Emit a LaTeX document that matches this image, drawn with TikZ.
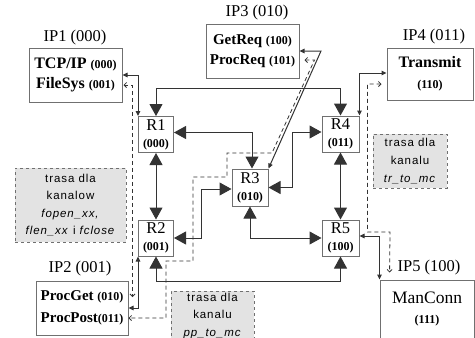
\documentclass[tikz,border=0pt]{standalone}
\usepackage{fontspec}
\setmainfont{Liberation Serif}
\newfontfamily\notefont[LetterSpace=8]{Liberation Sans}
\usetikzlibrary{arrows.meta,calc}
\definecolor{boxline}{HTML}{707070}
\definecolor{linkc}{HTML}{333333}
\definecolor{notefill}{HTML}{E3E3E3}
\newcommand\smnum[1]{{\bfseries\fontsize{12}{12}\selectfont #1}}
\tikzset{
  ipbox/.style={draw=boxline, line width=1pt, fill=white, inner sep=0pt, align=center},
  rbox/.style={ipbox, minimum width=35pt, minimum height=36pt, font=\fontsize{16.5}{17}\selectfont},
  iplabel/.style={inner sep=0pt, font=\fontsize{16.5}{18}\selectfont},
  notebox/.style={draw=boxline, dashed, fill=notefill, line width=0.8pt, inner sep=0pt, align=center, font=\notefont\fontsize{11.5}{17.6}\selectfont},
  biglink/.style={draw=linkc, line width=1pt, {Triangle[length=12pt,width=13pt]}-{Triangle[length=12pt,width=13pt]}},
  smalllink/.style={draw=linkc, line width=1pt, {Triangle[length=5pt,width=4.5pt]}-{Triangle[length=5pt,width=4.5pt]}},
  route/.style={draw=linkc, line width=0.8pt, dash pattern=on 4pt off 3pt, {Straight Barb[length=2.5pt,width=5pt]}-{Straight Barb[length=2.5pt,width=5pt]}},
}
\begin{document}
\begin{tikzpicture}[x=1pt,y=-1pt]
\useasboundingbox (0,0) rectangle (475,338);

% notes
\node[notebox, minimum width=111pt, minimum height=74pt] (N1) at (70.5,205)
  {trasa dla\\kanalow\\\textit{fopen\_xx,}\\\textit{flen\_xx} i \textit{fclose}};
\node[notebox, minimum width=74pt, minimum height=54pt] (N2) at (410,161)
  {trasa dla\\kanalu\\\textit{tr\_to\_mc}};
\node[notebox, minimum width=83pt, minimum height=50pt] (N3) at (212.5,316)
  {trasa dla\\kanalu\\\textit{pp\_to\_mc}};

% IP boxes
\node[ipbox, minimum width=93pt, minimum height=54pt, font=\bfseries\fontsize{16}{20}\selectfont] (IP1) at (75.5,75)
  {TCP/IP \smnum{(000)}\\FileSys \smnum{(001)}};
\node[ipbox, minimum width=92pt, minimum height=54pt, font=\bfseries\fontsize{15}{22}\selectfont] (IP2) at (82,308)
  {ProcGet \smnum{(010)}\\ProcPost\smnum{(011)}};
\node[ipbox, minimum width=93pt, minimum height=54pt, font=\bfseries\fontsize{15}{20}\selectfont] (IP3) at (252.5,51)
  {GetReq \smnum{(100)}\\ProcReq \smnum{(101)}};
\node[ipbox, minimum width=86pt, minimum height=52pt, font=\bfseries\fontsize{16}{21}\selectfont] (IP4) at (430,74)
  {Transmit\\\smnum{(110)}};
\node[ipbox, minimum width=94pt, minimum height=58pt, font=\fontsize{17.5}{20}\selectfont] (IP5) at (427,309)
  {ManConn\\\smnum{(111)}};

% labels
\node[iplabel] (L1) at (75,38) {IP1 (000)};
\node[iplabel] (L2) at (80,269) {IP2 (001)};
\node[iplabel] (L3) at (257,13) {IP3 (010)};
\node[iplabel] (L4) at (434,37) {IP4 (011)};
\node[iplabel] (L5) at (429,268) {IP5 (100)};

% routers
\node[rbox] (R1) at (156,134.5) {R1\\\smnum{(000)}};
\node[rbox] (R2) at (156,238) {R2\\\smnum{(001)}};
\node[rbox, minimum width=36pt, minimum height=37pt] (R3) at (250,187.5) {R3\\\smnum{(010)}};
\node[rbox, minimum width=37pt] (R4) at (340.5,134) {R4\\\smnum{(011)}};
\node[rbox, minimum width=37pt] (R5) at (340.5,238) {R5\\\smnum{(100)}};

% router links
\draw[biglink] (R1.north) -- ++(0,-28) -| (R4.north);
\draw[biglink] ([yshift=2pt]R1.east) -| ([xshift=2pt]R3.north);
\draw[biglink] ([yshift=2pt]R4.west) -- ++(-29,0) |- (R3.east);
\draw[biglink] (R2.east) -- ++(27,0) |- ([yshift=-1.5pt]R3.west);
\draw[biglink] (R3.south) |- (R5.west);
\draw[biglink] (R2.south) -- ++(0,25) -| (R5.south);
\draw[biglink] (R1.south) -- (R2.north);
\draw[biglink] (R4.south) -- (R5.north);

% IP to router links
\draw[smalllink] (IP1.east) -| (R1.north west);
\draw[smalllink] (IP2.east) -| (R2.south west);
\draw[smalllink] ([yshift=1pt]IP4.west) -| (R4.north east);
\draw[smalllink] ([yshift=2pt]R5.east) -| (IP5.north west);
\coordinate (c3) at (321,51);
\draw[smalllink] (IP3.east) -- (c3) -- (R3.north east);

% channel routes
\draw[route, shorten <=1pt] ([yshift=-10pt]IP1.east) -| ([xshift=4pt,yshift=11pt]IP2.east);
\draw[route, shorten <=5pt] ([yshift=-9pt]IP3.east) -- ++(15,0) -- (272,153) -| (227,177) -| (193,261) -| (166,318) -- ([yshift=-10pt]IP2.east);
\draw[route, shorten <=5pt, shorten >=7pt] ([yshift=-10pt]IP4.west) -- ++(-19,0) |- (390,232) -- ([xshift=10pt]IP5.north west);
\end{tikzpicture}
\end{document}
